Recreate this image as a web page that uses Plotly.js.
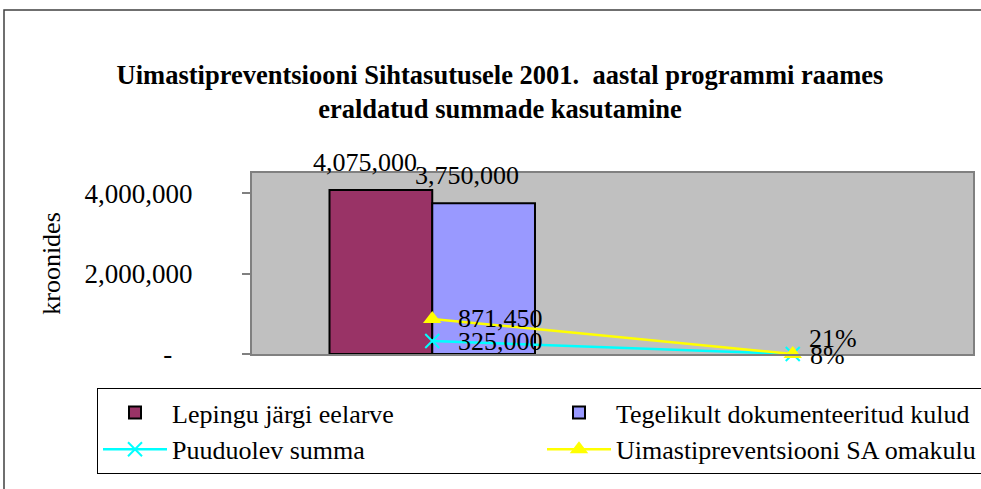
<!DOCTYPE html>
<html>
<head>
<meta charset="utf-8">
<script src="https://cdn.plot.ly/plotly-3.0.1.min.js"></script>
<style>html,body{margin:0;padding:0;background:#fff;}#chart{width:981px;height:489px;}</style>
</head>
<body>
<div id="chart"></div>
<script>
// ---- data ----
const categories = ['cat1', 'cat2'];
const seriesNames = ['Lepingu järgi eelarve', 'Tegelikult dokumenteeritud kulud', 'Puuduolev summa', 'Uimastipreventsiooni SA omakulu'];
const budget = [4075000, null];
const documented = [3750000, null];
const missing = [325000, 0.08];
const ownCost = [871450, 0.21];
const yTickVals = [0, 2000000, 4000000];
const yTickText = ['-\u00a0\u00a0\u00a0', '2,000,000', '4,000,000'];
const titleText = 'Uimastipreventsiooni Sihtasutusele 2001.  aastal programmi raames<br>eraldatud summade kasutamine';
const yTitle = 'kroonides';

function fmt(v) {
  if (v === null) return '';
  if (Math.abs(v) < 1) return Math.round(v * 100) + '%';
  return v.toLocaleString('en-US');
}

const FONT = 'Liberation Serif';
const FS = 26;

// plot-area geometry (pixels)
const W = 981, H = 489;
const L = 252, R = 8, T = 173, B = 135;
const pw = W - L - R, ph = H - T - B;
const px = x => (x - L) / pw;
const py = y => (H - B - y) / ph;

const traces = [
  {
    type: 'bar', name: seriesNames[0], x: categories, y: budget,
    marker: {color: '#993366', line: {color: '#000', width: 2}}
  },
  {
    type: 'bar', name: seriesNames[1], x: categories, y: documented,
    marker: {color: '#9999FF', line: {color: '#000', width: 2}}
  },
  {
    type: 'scatter', mode: 'lines+markers', name: seriesNames[2], x: categories, y: missing,
    line: {color: '#00FFFF', width: 2.5}, cliponaxis: false,
    marker: {symbol: 'x-thin-open', size: 14, color: '#00FFFF', line: {color: '#00FFFF', width: 2}}
  },
  {
    type: 'scatter', mode: 'lines+markers', name: seriesNames[3], x: categories, y: ownCost,
    line: {color: '#FFFF00', width: 2.5}, cliponaxis: false,
    marker: {symbol: 'triangle-up', size: 16, color: '#FFFF00'}
  }
];

// data labels, placed at the data coordinates through the axes
const annotations = [];
const labelFont = {family: FONT, size: FS, color: '#000'};
function addLabels(vals, opts) {
  vals.forEach((v, i) => {
    if (v === null) return;
    const o = typeof opts === 'function' ? opts(i) : opts;
    annotations.push(Object.assign({
      xref: 'x', yref: 'y', x: categories[i], y: v, text: fmt(v),
      showarrow: false, font: labelFont, borderpad: 0
    }, o));
  });
}
addLabels(budget, {xanchor: 'center', yanchor: 'bottom', xshift: -67, yshift: 12});
addLabels(documented, {xanchor: 'center', yanchor: 'bottom', xshift: 35, yshift: 12});
addLabels(ownCost, i => ({xanchor: 'left', yanchor: 'middle', xshift: i === 0 ? 25 : 15, yshift: i === 0 ? 0 : 16}));
addLabels(missing, i => ({xanchor: 'left', yanchor: 'middle', xshift: i === 0 ? 25 : 16, yshift: -1}));

const layout = {
  width: W, height: H,
  margin: {l: L, r: R, t: T, b: B, pad: 0, autoexpand: false},
  paper_bgcolor: '#fff',
  plot_bgcolor: '#C0C0C0',
  font: {family: FONT, size: FS, color: '#000'},
  showlegend: true,
  hovermode: false,
  barmode: 'group',
  bargap: 0.43,
  bargroupgap: 0,
  title: {
    text: titleText,
    font: {family: FONT, size: 26.5, weight: 'bold', color: '#000'},
    xref: 'container', x: 500 / W, xanchor: 'center',
    yref: 'container', y: 1 - 84 / H, yanchor: 'top'
  },
  xaxis: {
    type: 'category', showticklabels: false, ticks: '',
    showline: true, mirror: true, linecolor: '#808080', linewidth: 2,
    showgrid: false, zeroline: false, range: [-0.5, 1.5]
  },
  yaxis: {
    range: [0, 4500000], tickvals: yTickVals, ticktext: yTickText,
    ticks: 'outside', ticklen: 8, tickcolor: '#808080', tickwidth: 2,
    ticklabelstandoff: 44,
    tickfont: {family: FONT, size: 27, color: '#000'},
    showline: true, mirror: true, linecolor: '#808080', linewidth: 2,
    showgrid: false, zeroline: false,
    title: {text: yTitle, font: {family: FONT, size: FS, color: '#000'}, standoff: 16}
  },
  legend: {
    orientation: 'h',
    xref: 'paper', x: px(97), xanchor: 'left',
    yref: 'paper', y: py(388), yanchor: 'top',
    bgcolor: '#fff', bordercolor: '#000', borderwidth: 1,
    font: {family: FONT, size: FS, color: '#000'},
    entrywidth: 365, entrywidthmode: 'pixels',
    itemwidth: 64, traceorder: 'normal'
  },
  annotations: annotations,
  shapes: [
    {type: 'rect', xref: 'paper', yref: 'paper', layer: 'below',
     x0: px(4), x1: px(1010), y0: py(520), y1: py(10),
     line: {color: '#404040', width: 1.5}, fillcolor: 'rgba(0,0,0,0)'}
  ]
};

Plotly.newPlot('chart', traces, layout, {displayModeBar: false, staticPlot: true});
</script>
</body>
</html>
